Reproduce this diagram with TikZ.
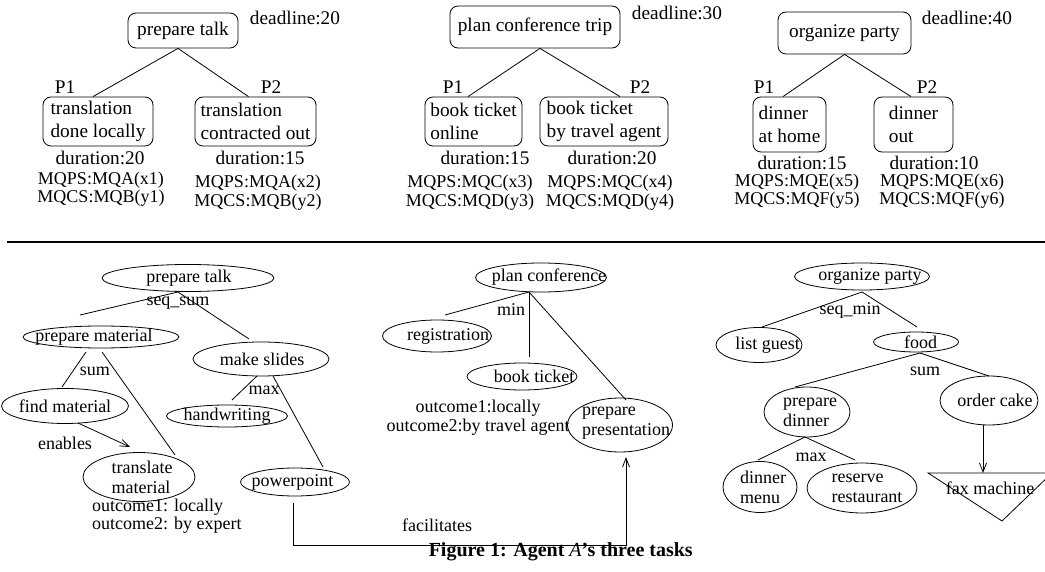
\documentclass[tikz,border=0pt]{standalone}
\usepackage{fontspec}
\setmainfont{Liberation Serif}
\usetikzlibrary{shapes.geometric,arrows.meta}
\begin{document}
\begin{tikzpicture}[x=1pt,y=-1pt,
  every node/.style={font=\fontsize{18}{20}\selectfont, inner sep=0pt},
  top/.style={font=\fontsize{19.3}{21}\selectfont},
  tbox/.style={draw, rounded corners=8pt, line width=0.8pt, align=left,
               font=\fontsize{19.3}{23}\selectfont},
  ell/.style={draw, ellipse, inner sep=0pt, line width=0.8pt},
  every label/.style={align=left},
  mq/.style={align=center, font=\fontsize{18}{18.5}\selectfont},
  link/.style={line width=0.8pt},
  arr/.style={line width=0.8pt, -{Straight Barb[length=9pt,width=7pt]}},
]
\useasboundingbox (0,0) rectangle (1045,572);

% ---------- upper part: tasks with their plans ----------
\node[top] (dl1) at (295,18) {deadline:20};
\node[top] (dl2) at (677,13) {deadline:30};
\node[top] (dl3) at (967,18) {deadline:40};

\node[tbox, minimum width=110, minimum height=35] (pt)   at (183,30.5)   {prepare talk};
\node[tbox, minimum width=110, minimum height=49] (tl)   at (98,121.5)   {translation\\done locally};
\node[tbox, minimum width=121, minimum height=49] (tc)   at (255.5,121.5){translation\\contracted out};
\node[tbox, minimum width=170, minimum height=42] (pct)  at (535,27)     {plan conference trip};
\node[tbox, minimum width=97,  minimum height=49] (bto)  at (473.5,121.5){book ticket\\online};
\node[tbox, minimum width=128, minimum height=49] (bta)  at (604,121.5)  {book ticket\\by travel agent};
\node[tbox, minimum width=133, minimum height=42] (op)   at (844.5,33)   {organize party};
\node[tbox, minimum width=73,  minimum height=55] (dh)   at (789.5,124.5){dinner\\at home};
\node[tbox, minimum width=79,  minimum height=55] (dout) at (913.5,124.5){dinner\\out};

\draw[link] ([xshift=-5]pt.south) -- ([xshift=-5]tl.north);
\draw[link] ([xshift=-5]pt.south) -- ([xshift=-7]tc.north);
\draw[link] ([xshift=5]pct.south) -- ([xshift=-5.5]bto.north);
\draw[link] ([xshift=5]pct.south) -- ([xshift=16]bta.north);
\draw[link] (op.south) -- ([xshift=-6.5]dh.north);
\draw[link] (op.south) -- ([xshift=-2.5]dout.north);

\node[top] (p1a) at (65,87)  {P1};
\node[top] (p2a) at (271,87) {P2};
\node[top] (p1b) at (453,87) {P1};
\node[top] (p2b) at (640,87) {P2};
\node[top] (p1c) at (764,87) {P1};
\node[top] (p2c) at (927,87) {P2};

\node[top] (d1) at (100,158) {duration:20};
\node[mq] (m1) at (101,189)   {MQPS:MQA(x1)\\MQCS:MQB(y1)};
\node[top] (d2) at (260,158) {duration:15};
\node[mq] (m2) at (258,192.5) {MQPS:MQA(x2)\\MQCS:MQB(y2)};
\node[top] (d3) at (485,158) {duration:15};
\node[mq] (m3) at (470,192.5) {MQPS:MQC(x3)\\MQCS:MQD(y3)};
\node[top] (d4) at (612,158) {duration:20};
\node[mq] (m4) at (610,192.5) {MQPS:MQC(x4)\\MQCS:MQD(y4)};
\node[top] (d5) at (802,163) {duration:15};
\node[mq] (m5) at (797,191)   {MQPS:MQE(x5)\\MQCS:MQF(y5)};
\node[top] (d6) at (934,163) {duration:10};
\node[mq] (m6) at (942,191)   {MQPS:MQE(x6)\\MQCS:MQF(y6)};

% separator
\coordinate (sepL) at (7,242);
\coordinate (sepR) at (1045,242);
\draw[line width=1.2pt] (sepL) -- (sepR);

% ---------- lower part: task structures ----------
% prepare talk
\node[ell, minimum width=172, minimum height=27, label={[xshift=1]center:prepare talk}] (bpt) at (188,278) {};
\node[ell, minimum width=156, minimum height=22, label={[xshift=-7]center:prepare material}] (bpm) at (101,337) {};
\node[ell, minimum width=127, minimum height=35, label={center:find material}] (bfm) at (65,406) {};
\node[ell, minimum width=112, minimum height=49, label={[xshift=3]center:{translate\\material}}] (btm) at (139,477) {};
\node[ell, minimum width=136, minimum height=34, label={[xshift=1]center:make slides}] (bms) at (261,359) {};
\node[ell, minimum width=121, minimum height=22, label={center:handwriting}] (bhw) at (227,416) {};
\node[ell, minimum width=109, minimum height=28, label={[xshift=-2.5]center:powerpoint}] (bpp) at (295,482) {};

\coordinate (ptF)  at (178,292);
\coordinate (pmT)  at (80,315);
\coordinate (msT)  at (249,339);
\coordinate (pmF1) at (86,352);
\coordinate (fmT)  at (62,387);
\coordinate (pmF2) at (102,352);
\coordinate (tmT)  at (175,455);
\coordinate (enA)  at (78,423);
\coordinate (enB)  at (130,447);
\coordinate (msF1) at (257,376);
\coordinate (hwT)  at (232,400);
\coordinate (msF2) at (273,376);
\coordinate (ppT)  at (323,467);
\coordinate (ppB)  at (293,503);
\coordinate (facL) at (293,545);

\draw[link] (ptF) -- (pmT);
\draw[link] (ptF) -- (msT);
\draw[link] (pmF1) -- (fmT);
\draw[link] (pmF2) -- (tmT);
\draw[arr]  (enA) -- (enB);
\draw[link] (msF1) -- (hwT);
\draw[link] (msF2) -- (ppT);

\node (lseqsum)  at (178,303) {seq\_sum};
\node (lsum1)    at (95,371)  {sum};
\node (lenables) at (65,443)  {enables};
\node (lmax1)    at (264,390) {max};
\node[align=left, anchor=west, font=\fontsize{18}{18}\selectfont] (out1) at (92,516)
  {outcome1: locally\\outcome2: by expert};

% plan conference
\node[ell, minimum width=131, minimum height=29, label={[xshift=8]center:plan conference}] (bpc) at (541,277.5) {};
\node[ell, minimum width=109, minimum height=32, label={[xshift=11]center:registration}] (brg) at (437,336) {};
\node[ell, minimum width=110, minimum height=27, label={[xshift=12]center:book ticket}] (bbt) at (522,376.5) {};
\node[ell, minimum width=105, minimum height=54, label={[xshift=6,yshift=2]center:{prepare\\presentation}}] (bppr) at (620,425) {};

\coordinate (pcF)   at (529,292);
\coordinate (rgT)   at (445,315);
\coordinate (btT)   at (529,357);
\coordinate (pprT)  at (626,400);
\coordinate (pprB)  at (626,457);

\draw[link] (pcF) -- (rgT);
\draw[link] (pcF) -- (btT);
\draw[link] (pcF) -- (pprT);
\draw[arr]  (ppB) -- (facL) -| (pprB);

\node (lmin) at (511,310) {min};
\node[align=center, font=\fontsize{18}{19}\selectfont] (out2) at (478,417.5)
  {outcome1:locally\\outcome2:by travel agent};
\node (lfac) at (437,525) {facilitates};

% organize party
\node[ell, minimum width=135, minimum height=27, label={[xshift=8]center:organize party}] (bop) at (862,276.5) {};
\node[ell, minimum width=86, minimum height=35, label={[xshift=8.5]center:list guest}] (blg) at (759,345) {};
\node[ell, minimum width=85, minimum height=20, label={[xshift=4.5]center:food}] (bfd) at (916,342) {};
\node[ell, minimum width=86, minimum height=50, label={[xshift=3]center:{prepare\\dinner}}] (bpd) at (807,412) {};
\node[ell, minimum width=98, minimum height=49, label={[xshift=6]center:order cake}] (boc) at (989,400.5) {};
\node[ell, minimum width=74, minimum height=51, label={[xshift=3]center:{dinner\\menu}}] (bdm) at (760,487) {};
\node[ell, minimum width=110, minimum height=50, label={[xshift=5]center:{reserve\\restaurant}}] (brr) at (862,488) {};

\coordinate (faxA) at (928,473);
\coordinate (faxB) at (1052,473);
\coordinate (faxC) at (1002,521);
\draw[link] (faxA) -- (faxB) -- (faxC) -- cycle;
\node (fax) at (990,488) {fax machine};

\coordinate (opF) at (862,292);
\coordinate (lgT) at (762,327);
\coordinate (fdT) at (917,327);
\coordinate (fdF) at (920,353);
\coordinate (pdT) at (795,387);
\coordinate (ocT) at (989,376);
\coordinate (pdF) at (805,437);
\coordinate (dmT) at (758,460);
\coordinate (rrT) at (855,460);
\coordinate (ocB) at (983,425);
\coordinate (faxT) at (983,473);

\draw[link] (opF) -- (lgT);
\draw[link] (opF) -- (fdT);
\draw[link] (fdF) -- (pdT);
\draw[link] (fdF) -- (ocT);
\draw[link] (pdF) -- (dmT);
\draw[link] (pdF) -- (rrT);
\draw[arr]  (ocB) -- (faxT);

\node (lseqmin) at (850,310) {seq\_min};
\node (lsum2)   at (925,371) {sum};
\node (lmax2)   at (811,457) {max};

% caption
\node[anchor=east, font=\fontsize{20}{24}\selectfont\bfseries] (cap) at (693,552)
  {Figure 1: Agent {\mdseries\itshape A}’s three tasks};
\end{tikzpicture}
\end{document}
